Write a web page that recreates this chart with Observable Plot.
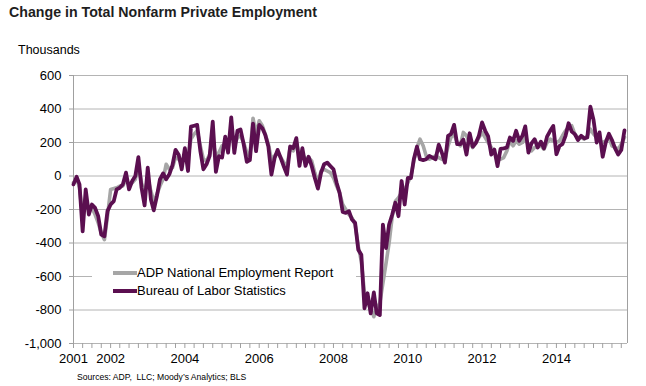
<!DOCTYPE html>
<html>
<head>
<meta charset="utf-8">
<script src="https://cdn.jsdelivr.net/npm/d3@7"></script>
<script src="https://cdn.jsdelivr.net/npm/@observablehq/plot@0.6"></script>
<style>
  html, body { margin: 0; padding: 0; background: #fff; }
  #chart { position: relative; width: 646px; height: 386px; font-family: "Liberation Sans", Arial, sans-serif; overflow: hidden; }
  #chart svg { position: absolute; left: 0; top: 0; }
  .abs { position: absolute; white-space: nowrap; line-height: 1; }
  #title { left: 9px; top: 5px; font-size: 14.2px; font-weight: bold; color: #1e1e1e; }
  #units { left: 18px; top: 44px; font-size: 12.5px; color: #000; }
  #source { left: 77px; top: 373px; font-size: 8.6px; color: #000; }
  #legend { left: 92px; top: 262px; width: 264px; height: 38px; background: #fff; }
  .lg-row { position: absolute; left: 21px; height: 18px; }
  .lg-swatch { position: absolute; left: 0; top: 7px; width: 24px; height: 4px; }
  .lg-text { position: absolute; left: 24px; top: 2px; font-size: 13px; color: #000; white-space: nowrap; }
</style>
</head>
<body>
<div id="chart">
  <div id="title" class="abs">Change in Total Nonfarm Private Employment</div>
  <div id="units" class="abs">Thousands</div>
  <div id="source" class="abs">Sources: ADP,&nbsp; LLC; Moody’s Analytics; BLS</div>
</div>
<script>
// ---- Data (thousands, monthly, starting January 2001) ----
const startYear = 2001;
const blsValues = [
  -50, -5, -50, -330, -80, -230, -170, -190, -240, -350, -360, -210,      // 2001
  -170, -150, -80, -70, -50, 20, -80, -30, 0, 113, -70, -175,            // 2002
  50, -140, -205, -120, -20, 15, -20, 10, 65, 156, 127, 40,              // 2003
  166, 30, 295, 300, 305, 150, 40, 70, 120, 325, 25, 118,                // 2004
  110, 235, 140, 350, 138, 270, 278, 190, 85, 95, 312, 148,              // 2005
  305, 285, 246, 176, 8, 107, 156, 107, 55, 8, 176, 166,                 // 2006
  226, 60, 166, 60, 115, 60, -10, -75, 20, 70, 80, 60,                   // 2007
  40, -40, -100, -215, -220, -210, -260, -280, -440, -470, -790, -700,   // 2008
  -820, -695, -820, -830, -290, -430, -290, -230, -160, -240, -30, -170, // 2009
  -12, -12, 100, 175, 100, 95, 100, 120, 110, 100, 187, 140,             // 2010
  80, 240, 250, 305, 190, 190, 217, 128, 255, 175, 197, 240,             // 2011
  320, 270, 236, 128, 158, 59, 162, 165, 170, 230, 210, 270,             // 2012
  210, 240, 296, 140, 195, 220, 170, 205, 165, 235, 270, 299,            // 2013
  130, 180, 190, 240, 315, 265, 250, 215, 240, 225, 230, 414,            // 2014
  335, 200, 260, 115, 200, 252, 215, 165, 128, 155, 272                  // 2015
];
const adpValues = [
  -40, -15, -70, -250, -130, -200, -190, -230, -280, -340, -380, -240,   // 2001
  -80, -75, -70, -60, -60, -20, -50, -40, -20, 60, -40, -110,            // 2002
  -10, -90, -150, -110, -60, -20, 70, 40, 50, 110, 100, 80,              // 2003
  130, 110, 220, 250, 270, 180, 100, 90, 130, 220, 110, 140,             // 2004
  180, 190, 170, 260, 180, 230, 240, 200, 140, 120, 345, 250,            // 2005
  330, 300, 250, 190, 100, 120, 140, 110, 80, 60, 170, 150,              // 2006
  200, 120, 130, 100, 110, 90, 20, -40, 30, 40, 30, 20,                  // 2007
  -10, -60, -100, -170, -200, -230, -250, -290, -420, -510, -700, -760,  // 2008
  -790, -840, -790, -760, -640, -520, -400, -240, -150, -130, -100, -80, // 2009
  -40, 0, 90, 170, 220, 180, 120, 100, 110, 120, 110, 100,               // 2010
  95, 180, 230, 250, 200, 180, 260, 240, 200, 170, 200, 230,             // 2011
  260, 230, 200, 170, 140, 110, 100, 110, 150, 210, 180, 210,            // 2012
  190, 200, 230, 180, 150, 170, 180, 180, 160, 200, 220, 210,            // 2013
  200, 210, 240, 270, 290, 300, 250, 230, 230, 220, 240, 280,            // 2014
  250, 230, 210, 200, 210, 230, 180, 170, 160, 190, 230                  // 2015
];
const seriesNames = ["ADP National Employment Report", "Bureau of Labor Statistics"];
const seriesColors = ["#a6a6a6", "#5b0f50"];
const yTicks = [600, 400, 200, 0, -200, -400, -600, -800, -1000];
const xLabelYears = [2001, 2002, 2004, 2006, 2008, 2010, 2012, 2014];

// ---- Build table ----
const monthDate = i => new Date(Date.UTC(startYear, i, 1));
const rows = [];
adpValues.forEach((v, i) => rows.push({date: monthDate(i), value: v, series: seriesNames[0]}));
blsValues.forEach((v, i) => rows.push({date: monthDate(i), value: v, series: seriesNames[1]}));

const xStart = monthDate(0);
const xEnd = monthDate(blsValues.length);
const quarterTicks = [];
for (let m = 0; m < blsValues.length; m += 3) quarterTicks.push(monthDate(m));

const fmtY = d => (d < 0 ? "-" : "") + d3.format(",")(Math.abs(d));
const fmtX = d => (d.getUTCMonth() === 0 && xLabelYears.includes(d.getUTCFullYear())) ? String(d.getUTCFullYear()) : "";

const grid = "#b4b4b4";
const axisGray = "#a0a0a0";

const chart = Plot.plot({
  width: 646,
  height: 386,
  marginLeft: 73,
  marginRight: 19,
  marginTop: 75,
  marginBottom: 43,
  style: {fontFamily: "'Liberation Sans', Arial, sans-serif", fontSize: "13px", background: "transparent", color: "#000"},
  x: {type: "utc", domain: [xStart, xEnd], label: null},
  y: {domain: [-1000, 600], label: null},
  marks: [
    Plot.ruleY(yTicks, {stroke: grid, strokeWidth: 1}),
    Plot.ruleX([xEnd], {stroke: axisGray, strokeWidth: 1}),
    Plot.ruleX([xStart], {stroke: axisGray, strokeWidth: 1}),
    Plot.axisY({ticks: yTicks, tickSize: 4, tickPadding: 8, tickFormat: fmtY, stroke: axisGray, fill: "#000", fontSize: 13, label: null}),
    Plot.axisX({ticks: quarterTicks, tickSize: 5, tickPadding: 5, tickFormat: fmtX, stroke: axisGray, fill: "#000", fontSize: 13, label: null}),
    Plot.line(rows.filter(d => d.series === seriesNames[0]), {x: "date", y: "value", stroke: seriesColors[0], strokeWidth: 3.6, strokeLinejoin: "round"}),
    Plot.line(rows.filter(d => d.series === seriesNames[1]), {x: "date", y: "value", stroke: seriesColors[1], strokeWidth: 3.8, strokeLinejoin: "round"})
  ]
});

const container = document.getElementById("chart");
container.insertBefore(chart, container.firstChild);

// Legend (white box over the plot, as in the original)
const legend = document.createElement("div");
legend.id = "legend";
legend.className = "abs";
seriesNames.forEach((name, i) => {
  const row = document.createElement("div");
  row.className = "lg-row";
  row.style.top = (2 + i * 18) + "px";
  const sw = document.createElement("div");
  sw.className = "lg-swatch";
  sw.style.background = seriesColors[i];
  const tx = document.createElement("div");
  tx.className = "lg-text";
  tx.textContent = name;
  row.appendChild(sw);
  row.appendChild(tx);
  legend.appendChild(row);
});
container.appendChild(legend);
</script>
</body>
</html>
